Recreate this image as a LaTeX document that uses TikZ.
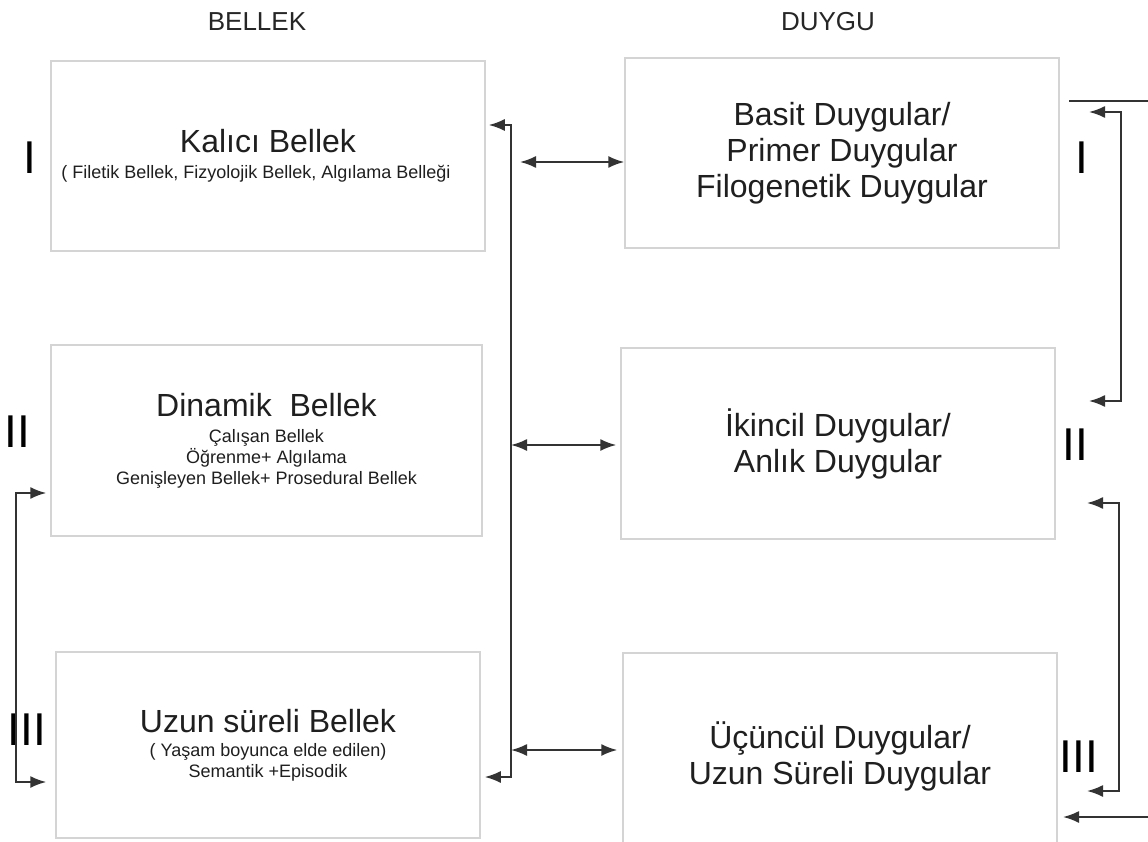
\documentclass[tikz,border=0pt]{standalone}
\usepackage{fontspec}
\setmainfont{Liberation Sans}
\usetikzlibrary{arrows.meta}

\newcommand{\bhead}[1]{{\fontsize{32}{36}\selectfont #1}}

\begin{document}
\begin{tikzpicture}[x=1pt,y=-1pt,>={Latex[length=16pt,width=12pt]},
    box/.style={draw=black!17,line width=1.5pt,inner sep=0pt,align=center,text=black!88},
    lbox/.style={box,font=\fontsize{18}{21}\selectfont},
    rbox/.style={box,font=\fontsize{32}{36}\selectfont},
    link/.style={draw=black!80,line width=1.8pt},
    head/.style={font=\fontsize{26}{28}\selectfont,text=black!85},
    num/.style={font=\fontsize{46}{46}\selectfont}]
    \clip (0,0) rectangle (1148,842);
    \fill[white] (0,0) rectangle (1148,842);

    \node[head] (bellek) at (257,22) {BELLEK};
    \node[head] (duygu) at (828,22) {DUYGU};

    \node[lbox,minimum width=434pt,minimum height=190pt] (kalici) at (268,156)
        {\bhead{Kalıcı Bellek}\\[5pt]( Filetik Bellek, Fizyolojik Bellek, Algılama Belleği\hspace*{24pt}};
    \node[lbox,minimum width=431pt,minimum height=191pt] (dinamik) at (266.5,440.5)
        {\bhead{Dinamik\ \ Bellek}\\[5pt]Çalışan Bellek\\Öğrenme+ Algılama\\Genişleyen Bellek+ Prosedural Bellek};
    \node[lbox,minimum width=424pt,minimum height=186pt] (uzun) at (268,745)
        {\bhead{Uzun süreli Bellek}\\[3pt]( Yaşam boyunca elde edilen)\\Semantik +Episodik};

    \node[rbox,minimum width=434pt,minimum height=190pt] (basit) at (842,153)
        {Basit Duygular/\\Primer Duygular\\Filogenetik Duygular};
    \node[rbox,minimum width=434pt,minimum height=191pt] (ikincil) at (838,443.5)
        {İkincil Duygular/\\Anlık Duygular};
    \node[rbox,minimum width=434pt,minimum height=207pt] (ucuncul) at (840,756.5)
        {Üçüncül Duygular/\\Uzun Süreli Duygular};

    \node[num] (n1l) at (30,158) {I};
    \node[num] (n2l) at (17,432) {II};
    \node[num] (n3l) at (27,730) {III};
    \node[num] (n1r) at (1082,158) {I};
    \node[num] (n2r) at (1075,445) {II};
    \node[num] (n3r) at (1079,757) {III};

    \coordinate (top) at (511,125);
    \coordinate (bot) at (511,777);
    \coordinate (m1) at (520,162);
    \coordinate (m2) at (511,445);
    \coordinate (m3) at (511,750);
    \coordinate (la) at (16,493);
    \coordinate (lb) at (16,782);
    \coordinate (r1s) at (1089,112);
    \coordinate (r1e) at (1089,401);
    \coordinate (r2s) at (1087,503);
    \coordinate (r2e) at (1087,791);
    \coordinate (tl) at (1069,101);
    \coordinate (tr) at (1148,101);
    \coordinate (br) at (1148,817);
    \coordinate (bl) at (1063,817);

    \draw[link,<->,shorten <=3pt,shorten >=4pt] (kalici.east |- top) -- (top) -- (bot) -- (uzun.east |- bot);
    \draw[link,<->] (m1) -- (basit.west |- m1);
    \draw[link,<->,shorten >=4pt] (m2) -- (ikincil.west |- m2);
    \draw[link,<->,shorten >=5pt] (m3) -- (ucuncul.west |- m3);
    \draw[link,<->,shorten <=4pt,shorten >=9pt] (dinamik.west |- la) -- (la) -- (lb) -- (uzun.west |- lb);
    \draw[link,<->] (r1s) -- ++(32,0) |- (r1e);
    \draw[link,<->] (r2s) -- ++(32,0) |- (r2e);
    \draw[link] (tl) -- (tr);
    \draw[link,->] (br) -- (bl);
\end{tikzpicture}
\end{document}
